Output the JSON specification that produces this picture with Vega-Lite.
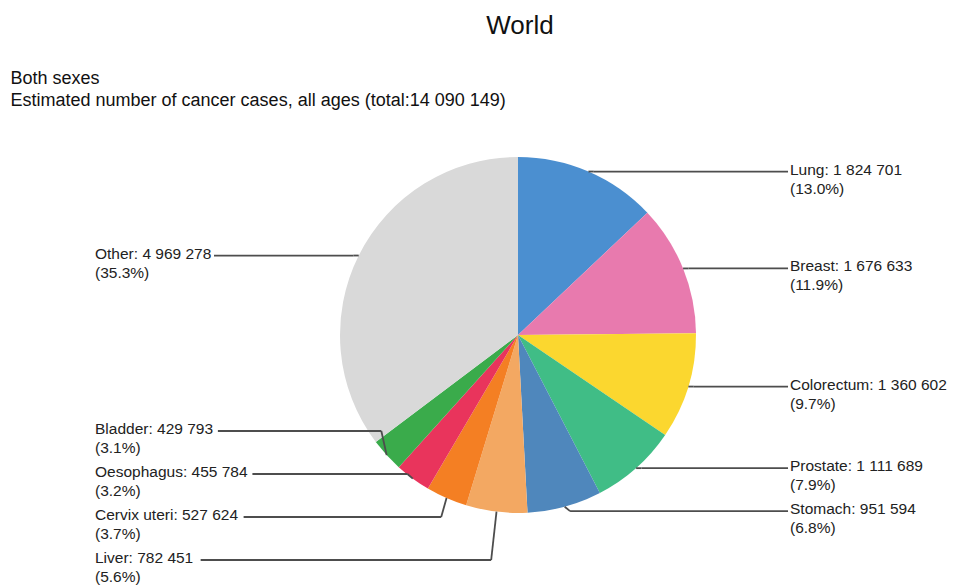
{
  "$schema": "https://vega.github.io/schema/vega-lite/v6.json",
  "width": 940,
  "height": 465,
  "autosize": "none",
  "padding": {"left": 10, "top": 115, "right": 4, "bottom": 5},
  "background": "white",
  "title": {"text": "World", "anchor": "middle", "frame": "group", "dx": 40, "fontSize": 26, "font": "Liberation Sans", "fontWeight": "normal", "color": "#111111", "offset": 30},
  "config": {"view": {"stroke": null}, "axisX": {"domain": false, "ticks": false, "labels": false, "grid": false}},
  "data": {"values": [
    {"cancer": "Lung", "cases": 1824701},
    {"cancer": "Breast", "cases": 1676633},
    {"cancer": "Colorectum", "cases": 1360602},
    {"cancer": "Prostate", "cases": 1111689},
    {"cancer": "Stomach", "cases": 951594},
    {"cancer": "Liver", "cases": 782451},
    {"cancer": "Cervix uteri", "cases": 527624},
    {"cancer": "Oesophagus", "cases": 455784},
    {"cancer": "Bladder", "cases": 429793},
    {"cancer": "Other", "cases": 4969278}
  ]},
  "transform": [
    {"window": [{"op": "row_number", "as": "idx"}]},
    {"joinaggregate": [{"op": "sum", "field": "cases", "as": "total"}]},
    {"window": [{"op": "sum", "field": "cases", "as": "cum"}], "sort": [{"field": "idx"}], "frame": [null, 0]},
    {"calculate": "(datum.cum - datum.cases / 2) / datum.total * 2 * PI", "as": "mid"},
    {"calculate": "sin(datum.mid)", "as": "ex"},
    {"calculate": "cos(datum.mid)", "as": "ey"},
    {"calculate": "datum.ex >= 0 ? 1 : -1", "as": "side"},
    {"calculate": "datum.cancer + ': ' + replace(format(datum.cases, ','), regexp(',', 'g'), ' ')", "as": "line1"},
    {"calculate": "datum.line1 + '\\n(' + format(datum.cases / datum.total, '.1%') + ')'", "as": "label"},
    {"window": [{"op": "row_number", "as": "k1"}], "groupby": ["side"], "sort": [{"field": "ey", "order": "descending"}]},
    {"joinaggregate": [{"op": "count", "as": "n"}], "groupby": ["side"]},
    {"calculate": "datum.ey + (datum.k1 - 1) * 0.2416", "as": "a"},
    {"window": [{"op": "min", "field": "a", "as": "amin"}], "groupby": ["side"], "sort": [{"field": "ey", "order": "descending"}], "frame": [null, 0]},
    {"window": [{"op": "max", "field": "amin", "as": "bmax"}], "groupby": ["side"], "sort": [{"field": "ey", "order": "descending"}], "frame": [0, null]},
    {"calculate": "max(datum.bmax, -1.264 + (datum.n - 1) * 0.2416) - (datum.k1 - 1) * 0.2416", "as": "ly"},
    {"calculate": "datum.ex + datum.side * 0.03", "as": "elx"},
    {"calculate": "datum.side > 0 ? 1.528 : -2.3764", "as": "tx"},
    {"calculate": "datum.side > 0 ? 1.517 : -2.3764 + (0.556 * length(datum.line1) - 0.31 * (length(datum.line1) - length(replace(datum.line1, regexp('[ijl.,: ]', 'g'), ''))) - 0.25 * (length(datum.line1) - length(replace(datum.line1, regexp('[tfr()]', 'g'), ''))) + 0.2 * (length(datum.line1) - length(replace(datum.line1, regexp('[A-Zmw]', 'g'), '')))) * 15.5 / 178 + 0.028", "as": "lend"}
  ],
  "layer": [
    {
      "mark": {"type": "arc", "outerRadius": 178},
      "encoding": {
        "x": {"datum": 0, "type": "quantitative", "scale": {"domain": [-2.853933, 2.426966], "nice": false, "zero": false}, "axis": {"orient": "top", "title": ["Both sexes", "Estimated number of cancer cases, all ages (total:14 090 149)"], "titleAnchor": "start", "titleAlign": "left", "titleFontSize": 18, "titleFontWeight": "normal", "titleFont": "Liberation Sans", "titleColor": "#111111", "titleLineHeight": 22, "titlePadding": 6}},
        "y": {"datum": 0, "type": "quantitative", "scale": {"domain": [-1.376404, 1.235955], "nice": false, "zero": false}, "axis": null},
        "theta": {"field": "cases", "type": "quantitative", "stack": true},
        "order": {"field": "idx", "type": "quantitative"},
        "color": {"field": "cancer", "type": "nominal", "legend": null, "scale": {
          "domain": ["Lung", "Breast", "Colorectum", "Prostate", "Stomach", "Liver", "Cervix uteri", "Oesophagus", "Bladder", "Other"],
          "range": ["#4b8fd0", "#e87aae", "#fbd72f", "#40bd86", "#4f87bc", "#f3a862", "#f47f23", "#e9345c", "#3aab4b", "#d9d9d9"]}}
      }
    },
    {
      "mark": {"type": "rule", "color": "#4d4d4d", "strokeWidth": 1.8},
      "encoding": {
        "x": {"field": "ex", "type": "quantitative", "scale": {"domain": [-2.853933, 2.426966], "nice": false, "zero": false}},
        "y": {"field": "ey", "type": "quantitative", "scale": {"domain": [-1.376404, 1.235955], "nice": false, "zero": false}, "axis": null},
        "x2": {"field": "elx"},
        "y2": {"field": "ly"}
      }
    },
    {
      "mark": {"type": "rule", "color": "#4d4d4d", "strokeWidth": 1.8},
      "encoding": {
        "x": {"field": "elx", "type": "quantitative", "scale": {"domain": [-2.853933, 2.426966], "nice": false, "zero": false}},
        "y": {"field": "ly", "type": "quantitative", "scale": {"domain": [-1.376404, 1.235955], "nice": false, "zero": false}, "axis": null},
        "x2": {"field": "lend"},
        "y2": {"field": "ly"}
      }
    },
    {
      "mark": {"type": "text", "align": "left", "baseline": "alphabetic", "dy": 3, "fontSize": 15.5, "lineBreak": "\n", "lineHeight": 19, "color": "#222222", "font": "Liberation Sans"},
      "encoding": {
        "x": {"field": "tx", "type": "quantitative", "scale": {"domain": [-2.853933, 2.426966], "nice": false, "zero": false}},
        "y": {"field": "ly", "type": "quantitative", "scale": {"domain": [-1.376404, 1.235955], "nice": false, "zero": false}, "axis": null},
        "text": {"field": "label"}
      }
    }
  ]
}
